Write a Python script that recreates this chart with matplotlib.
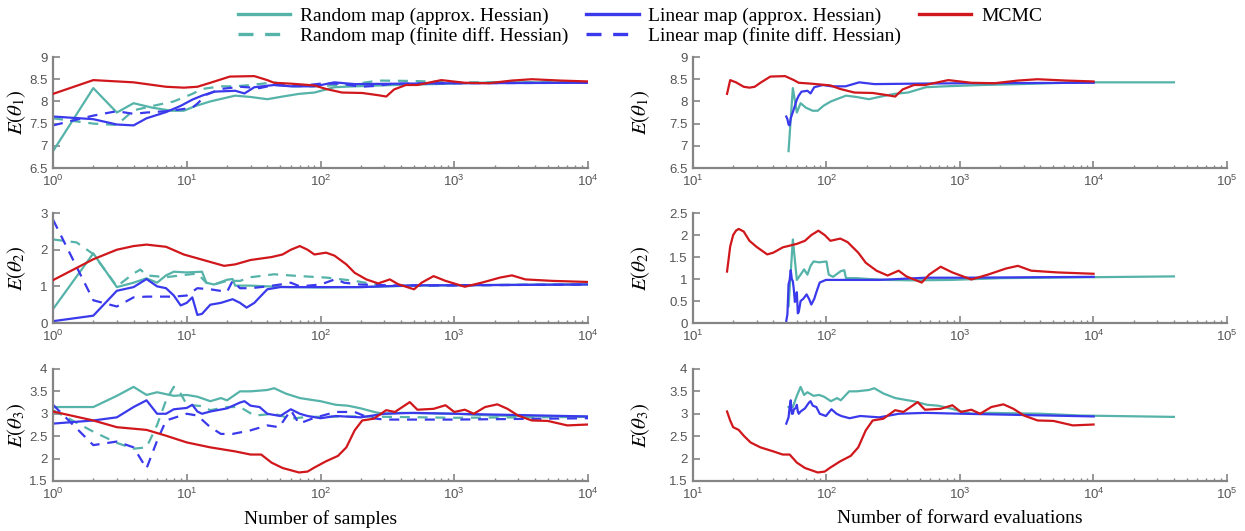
import matplotlib
matplotlib.use("Agg")
import matplotlib.pyplot as plt
from matplotlib.ticker import FormatStrFormatter, MultipleLocator, LogLocator, NullFormatter

# E(theta_1)
n_mcmc_t1 = [1, 2, 4, 7, 9.5, 12, 15, 21, 32, 40, 45, 60, 90, 110, 145, 205, 270, 310,
             355, 435, 530, 800, 1200, 1800, 2700, 3800, 6200, 10000]
mcmc_t1 = [8.17, 8.48, 8.43, 8.33, 8.31, 8.33, 8.42, 8.56, 8.57, 8.48, 8.42, 8.40, 8.36,
           8.28, 8.20, 8.19, 8.14, 8.11, 8.27, 8.37, 8.37, 8.48, 8.42, 8.41, 8.47, 8.50,
           8.47, 8.45]
n_rand_t1 = [1, 2, 3, 4, 5.5, 7.7, 9.5, 11.7, 15, 23, 30, 40, 52, 69, 90, 127, 180, 355,
             700, 2000, 10000]
rand_t1 = [6.88, 8.30, 7.75, 7.96, 7.86, 7.79, 7.79, 7.90, 8.00, 8.13, 8.10, 8.05, 8.11,
           8.17, 8.20, 8.32, 8.34, 8.37, 8.39, 8.43, 8.43]
n_rand_fd_t1 = [1, 2, 3, 4, 6, 8, 11, 13, 18, 23, 30, 45, 60, 90, 180, 270, 500, 1000, 10000]
rand_fd_t1 = [7.62, 7.50, 7.47, 7.80, 7.92, 8.00, 8.17, 8.28, 8.34, 8.34, 8.37, 8.43, 8.34,
              8.34, 8.39, 8.47, 8.46, 8.43, 8.43]
n_lin_t1 = [1, 2, 3, 4, 5, 7, 9, 11, 13, 16, 23, 27, 32, 45, 60, 90, 127, 180, 400, 1000,
            10000]
lin_t1 = [7.66, 7.60, 7.48, 7.46, 7.62, 7.76, 7.90, 8.04, 8.13, 8.22, 8.24, 8.18, 8.32,
          8.37, 8.34, 8.34, 8.43, 8.39, 8.40, 8.41, 8.42]
n_lin_fd_t1 = [1, 2, 3, 4, 5, 7, 9, 11, 12, 14, 18, 25, 35, 45, 70, 100, 140, 200, 260,
               350, 1000, 10000]
lin_fd_t1 = [7.46, 7.68, 7.78, 7.72, 7.75, 7.78, 7.82, 7.86, 7.95, 8.15, 8.28, 8.33, 8.30,
             8.37, 8.35, 8.40, 8.40, 8.33, 8.35, 8.40, 8.41, 8.42]

# E(theta_2)
n_mcmc_t2 = [1, 2, 3, 4, 5, 7, 9.5, 13, 19, 23, 30, 43, 52, 60, 70, 80, 90, 110, 127, 156,
             180, 220, 270, 330, 380, 500, 570, 700, 860, 1200, 1600, 2200, 2700, 3400,
             5400, 10000]
mcmc_t2 = [1.17, 1.74, 2.00, 2.10, 2.14, 2.08, 1.87, 1.73, 1.56, 1.60, 1.72, 1.80, 1.87,
           2.00, 2.10, 2.00, 1.87, 1.92, 1.84, 1.60, 1.37, 1.19, 1.08, 1.19, 1.06, 0.92,
           1.10, 1.28, 1.15, 0.99, 1.10, 1.24, 1.30, 1.19, 1.15, 1.12]
n_rand_t2 = [1, 2, 3, 4, 5, 6, 7, 8, 10, 13, 14, 16, 20, 22, 23, 30, 40, 60, 100, 200, 500,
             1000, 10000]
rand_t2 = [0.38, 1.90, 0.98, 1.10, 1.22, 1.10, 1.30, 1.40, 1.38, 1.40, 1.10, 1.05, 1.18,
           1.20, 1.02, 1.02, 1.00, 0.98, 0.97, 0.98, 1.02, 1.03, 1.06]
n_rand_fd_t2 = [1, 1.5, 2, 2.5, 3, 4, 4.5, 5, 7, 9, 12, 14, 16, 20, 25, 30, 45, 70, 110,
                180, 250, 330, 1000, 10000]
rand_fd_t2 = [2.28, 2.20, 1.88, 1.40, 1.00, 1.35, 1.46, 1.30, 1.25, 1.30, 1.35, 1.10, 1.05,
              1.15, 1.15, 1.25, 1.33, 1.28, 1.24, 1.15, 1.06, 1.01, 1.03, 1.05]
n_lin_t2 = [1, 2, 3, 4, 5, 6, 7, 8, 9, 10, 11, 12, 13, 15, 18, 22, 25, 28, 32, 35, 40, 50,
            70, 100, 200, 500, 1000, 10000]
lin_t2 = [0.05, 0.20, 0.88, 0.98, 1.20, 1.00, 0.95, 0.75, 0.48, 0.55, 0.70, 0.22, 0.25,
          0.50, 0.55, 0.65, 0.55, 0.42, 0.55, 0.70, 0.92, 0.98, 0.98, 0.98, 0.98, 1.03,
          1.03, 1.05]
n_lin_fd_t2 = [1, 2, 3, 4, 5, 6, 8, 10, 12, 15, 20, 22, 25, 30, 40, 50, 60, 70, 100, 130,
               150, 200, 400, 10000]
lin_fd_t2 = [2.82, 0.62, 0.45, 0.70, 0.72, 0.72, 0.72, 0.75, 0.95, 0.92, 0.85, 1.15, 0.95,
             0.95, 1.00, 1.05, 1.10, 1.00, 1.05, 1.20, 1.10, 1.05, 1.02, 1.05]

# E(theta_3)
n_mcmc_t3 = [1, 2, 3, 5, 7, 10, 15, 23, 30, 36, 43, 52, 69, 80, 90, 110, 135, 156, 180,
             205, 250, 310, 360, 465, 530, 700, 860, 1000, 1200, 1400, 1700, 2100, 2500,
             3000, 3800, 5000, 7000, 10000]
mcmc_t3 = [3.05, 2.85, 2.70, 2.64, 2.51, 2.36, 2.25, 2.16, 2.09, 2.09, 1.91, 1.79, 1.69,
           1.71, 1.80, 1.94, 2.06, 2.25, 2.63, 2.85, 2.89, 3.08, 3.04, 3.26, 3.09, 3.11,
           3.19, 3.04, 3.09, 3.00, 3.15, 3.21, 3.11, 2.96, 2.85, 2.84, 2.74, 2.76]
n_rand_t3 = [1, 2, 3, 4, 5, 6, 8, 10, 12, 15, 18, 20, 25, 30, 40, 45, 55, 70, 90, 100, 130,
             160, 200, 260, 300, 400, 1000, 2000, 10000]
rand_t3 = [3.15, 3.15, 3.40, 3.60, 3.42, 3.48, 3.40, 3.42, 3.38, 3.28, 3.35, 3.30, 3.50,
           3.50, 3.53, 3.57, 3.45, 3.35, 3.30, 3.28, 3.20, 3.18, 3.12, 3.03, 3.00, 3.02,
           3.00, 2.96, 2.93]
n_rand_fd_t3 = [1, 2, 3, 4, 5, 6, 7, 8, 9, 10, 13, 15, 20, 25, 32, 45, 60, 80, 200, 1000,
                10000]
rand_fd_t3 = [3.08, 2.60, 2.35, 2.22, 2.25, 2.75, 3.30, 3.60, 3.45, 3.20, 3.17, 3.08, 3.15,
              3.15, 2.96, 3.00, 2.89, 2.93, 2.94, 2.91, 2.93]
n_lin_t3 = [1, 2, 3, 4, 5, 6, 7, 8, 10, 11, 12, 13, 15, 20, 25, 27, 30, 35, 40, 50, 60, 70,
            80, 100, 130, 200, 300, 500, 1000, 10000]
lin_t3 = [2.78, 2.85, 2.92, 3.15, 3.30, 3.00, 3.00, 3.10, 3.13, 3.20, 3.05, 3.00, 3.05,
          3.12, 3.25, 3.28, 3.18, 3.15, 3.00, 2.95, 3.10, 3.00, 2.95, 2.90, 2.95, 2.92,
          3.00, 3.02, 3.00, 2.94]
n_lin_fd_t3 = [1, 2, 3, 4, 5, 6, 7, 10, 12, 15, 18, 22, 30, 40, 49, 60, 69, 90, 130, 180,
               230, 300, 1000, 10000]
lin_fd_t3 = [3.20, 2.30, 2.38, 2.25, 1.78, 2.40, 2.85, 3.00, 2.96, 2.70, 2.55, 2.55, 2.63,
             2.74, 2.70, 3.08, 2.78, 2.91, 3.04, 3.04, 2.91, 2.87, 2.87, 2.90]

# forward model evaluations per sample and up-front cost (map construction / burn-in)
evals_per_sample = {"rand": 4, "lin": 1, "mcmc": 1}
evals_setup = {"rand": 48, "lin": 49, "mcmc": 17}

labels = ["Random map (approx. Hessian)", "Random map (finite diff. Hessian)",
          "Linear map (approx. Hessian)", "Linear map (finite diff. Hessian)", "MCMC"]
ylabels = [r"$E(\theta_1)$", r"$E(\theta_2)$", r"$E(\theta_3)$"]
ylims_left = [(6.5, 9), (0, 3), (1.5, 4)]
ylims_right = [(6.5, 9), (0, 2.5), (1.5, 4)]
ysteps_left = [0.5, 1, 0.5]
ysteps_right = [0.5, 0.5, 0.5]

TEAL = "#55b3a9"
BLUE = "#3a3aec"
RED = "#d0171c"
GREY = "#858585"

params = [
    [(n_rand_t1, rand_t1, "rand", False), (n_rand_fd_t1, rand_fd_t1, "rand", True),
     (n_lin_t1, lin_t1, "lin", False), (n_lin_fd_t1, lin_fd_t1, "lin", True),
     (n_mcmc_t1, mcmc_t1, "mcmc", False)],
    [(n_rand_t2, rand_t2, "rand", False), (n_rand_fd_t2, rand_fd_t2, "rand", True),
     (n_lin_t2, lin_t2, "lin", False), (n_lin_fd_t2, lin_fd_t2, "lin", True),
     (n_mcmc_t2, mcmc_t2, "mcmc", False)],
    [(n_rand_t3, rand_t3, "rand", False), (n_rand_fd_t3, rand_fd_t3, "rand", True),
     (n_lin_t3, lin_t3, "lin", False), (n_lin_fd_t3, lin_fd_t3, "lin", True),
     (n_mcmc_t3, mcmc_t3, "mcmc", False)],
]
colors = {"rand": TEAL, "lin": BLUE, "mcmc": RED}

plt.rcParams["font.family"] = "Liberation Sans"
plt.rcParams["mathtext.fontset"] = "custom"
plt.rcParams["mathtext.rm"] = "Liberation Sans"
plt.rcParams["mathtext.it"] = "Liberation Sans:italic"


def style_axes(ax, xlim, ylim, ystep):
    ax.set_xscale("log")
    ax.set_xlim(*xlim)
    ax.set_ylim(*ylim)
    ax.yaxis.set_major_locator(MultipleLocator(ystep))
    ax.yaxis.set_major_formatter(FormatStrFormatter("%g"))
    ax.xaxis.set_major_locator(LogLocator(base=10))
    ax.xaxis.set_minor_locator(LogLocator(base=10, subs=range(2, 10)))
    ax.xaxis.set_minor_formatter(NullFormatter())
    for s in ["top", "right"]:
        ax.spines[s].set_visible(False)
    for s in ["left", "bottom"]:
        ax.spines[s].set_color(GREY)
        ax.spines[s].set_linewidth(1.6)
    ax.tick_params(which="major", direction="in", length=5, width=1.2, color=GREY,
                   labelsize=9.5, labelcolor="#555555", pad=4)
    ax.tick_params(which="minor", direction="in", length=2.5, width=1.0, color=GREY)


fig = plt.figure(figsize=(12.45, 5.31), dpi=100)
rows = [(0.6836, 0.209), (0.3917, 0.207), (0.0942, 0.211)]
cols = [(0.0426, 0.4297), (0.5566, 0.4289)]

handles = []
for i, series in enumerate(params):
    axl = fig.add_axes([cols[0][0], rows[i][0], cols[0][1], rows[i][1]])
    axr = fig.add_axes([cols[1][0], rows[i][0], cols[1][1], rows[i][1]])
    style_axes(axl, (1, 1e4), ylims_left[i], ysteps_left[i])
    style_axes(axr, (10, 1e5), ylims_right[i], ysteps_right[i])
    for k, (n, v, kind, dashed) in enumerate(series):
        ls = (0, (4.5, 3.5)) if dashed else "-"
        z = 3 if kind == "mcmc" else 2
        h, = axl.plot(n, v, color=colors[kind], lw=1.6, ls=ls, zorder=z)
        if i == 0:
            handles.append(h)
        if not dashed:
            ev = [evals_per_sample[kind] * x + evals_setup[kind] for x in n]
            axr.plot(ev, v, color=colors[kind], lw=1.6, zorder=z)
    for ax, xl in [(axl, -0.047), (axr, -0.077)]:
        ax.set_ylabel(ylabels[i], fontsize=15, math_fontfamily="stix")
        ax.yaxis.set_label_coords(xl, 0.5)
    if i == 2:
        axl.set_xlabel("Number of samples", family="Liberation Serif", fontsize=14, labelpad=6)
        axr.set_xlabel("Number of forward evaluations", family="Liberation Serif",
                       fontsize=14, labelpad=6)

leg = fig.legend(handles, labels, loc="upper center", bbox_to_anchor=(0.514, 1.012), ncol=3,
                 frameon=False, prop={"family": "Liberation Serif", "size": 14},
                 handlelength=2.7, handletextpad=0.5, columnspacing=0.9, labelspacing=0.12,
                 borderpad=0.2)
for h in leg.legend_handles:
    h.set_linewidth(2.4)

fig.savefig("out.png", dpi=100)
